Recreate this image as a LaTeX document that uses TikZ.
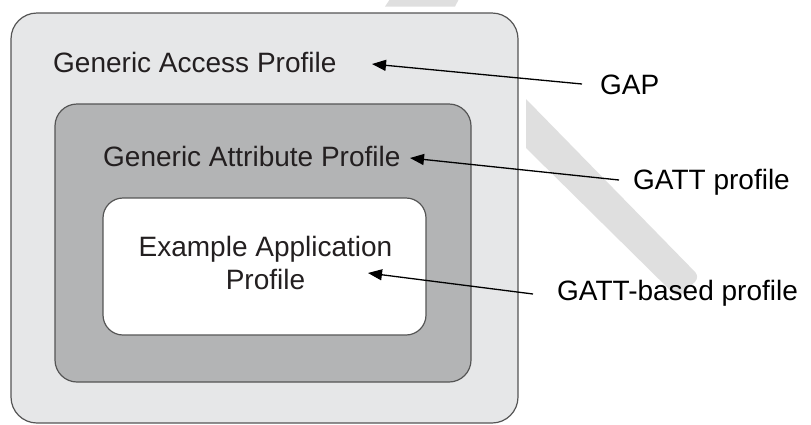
\documentclass[tikz,border=0pt]{standalone}
\usepackage{fontspec}
\setmainfont{Liberation Sans}
\usetikzlibrary{arrows.meta}
\definecolor{outerfill}{HTML}{E6E7E8}
\definecolor{midfill}{HTML}{B3B4B5}
\definecolor{boxline}{HTML}{555555}
\definecolor{wmark}{HTML}{DFDFDF}
\definecolor{boxtext}{HTML}{231F20}
\tikzset{
  box/.style={draw=boxline, line width=1.2pt, rounded corners=#1, inner sep=0pt},
  boxtxt/.style={text=boxtext, inner sep=0pt, font=\fontsize{28}{33}\selectfont, align=center},
  lbl/.style={text=black, inner sep=0pt, anchor=west, font=\fontsize{28}{33}\selectfont},
  arr/.style={line width=1.3pt, -{Triangle[length=14pt,width=11pt]}},
  wm/.style={fill=wmark}
}
\begin{document}
\begin{tikzpicture}[x=1pt,y=-1pt]
\useasboundingbox (0,0) rectangle (811,424);
% watermark
\fill[wm] (390,-1) -- (459,-1) -- (455,6.5) -- (385,6.5) -- cycle;
\fill[wm] (526,99) [rounded corners=7pt] -- (700,277) -- (678,298) [sharp corners] -- (526,148) -- cycle;
% boxes
\node[box=26pt, fill=outerfill, minimum width=507pt, minimum height=410pt] (outer) at (264.5,218) {};
\node[box=22pt, fill=midfill, minimum width=416pt, minimum height=278pt] (middle) at (263,243) {};
\node[box=20pt, fill=white, minimum width=323pt, minimum height=137pt] (inner) at (264.5,266.5) {};
% box texts
\node[boxtxt, anchor=west] (gaptxt) at (53,62) {Generic Access Profile};
\node[boxtxt, anchor=west] (gatttxt) at (103,156) {Generic Attribute Profile};
\node[boxtxt] (apptxt) at (265.5,263) {Example Application\\Profile};
% labels
\node[lbl] (gap) at (600,85) {GAP};
\node[lbl] (gatt) at (633,182) {GATT profile};
\node[lbl] (gattb) at (557,293) {GATT-based profile};
% arrow tips
\coordinate (t1) at (372,64);
\coordinate (t2) at (410,158);
\coordinate (t3) at (368,273);
\draw[arr] ([xshift=-18pt,yshift=1pt]gap.west) -- (t1);
\draw[arr] ([xshift=-14pt,yshift=2pt]gatt.west) -- (t2);
\draw[arr] ([xshift=-24pt,yshift=-1pt]gattb.west) -- (t3);
\end{tikzpicture}
\end{document}
